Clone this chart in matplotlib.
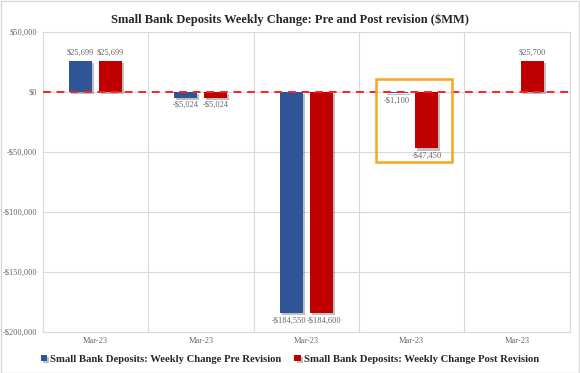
import numpy as np
import matplotlib
matplotlib.use("Agg")
import matplotlib.pyplot as plt
import matplotlib.patheffects as pe
from matplotlib.patches import Rectangle

plt.rcParams["font.family"] = ["Liberation Serif", "DejaVu Serif"]

categories = ["Mar-23", "Mar-23", "Mar-23", "Mar-23", "Mar-23"]
pre_revision = [25699, -5024, -184550, -1100, np.nan]
post_revision = [25699, -5024, -184600, -47450, 25700]
series_names = ["Small Bank Deposits: Weekly Change Pre Revision",
                "Small Bank Deposits: Weekly Change Post Revision"]
yticks = [50000, 0, -50000, -100000, -150000, -200000]

BLUE = "#2F5597"
RED = "#C00000"
GREY = "#666666"


def money(v):
    s = f"${abs(v):,.0f}"
    return "-" + s if v < 0 else s


fig = plt.figure(figsize=(5.8, 3.73), dpi=100)
ax = fig.add_axes([0.0736, 0.111, 0.909, 0.8045])

x = np.arange(len(categories))
w = 0.218
off = 0.142
shadow = [pe.SimplePatchShadow(offset=(1.5, -1.5), shadow_rgbFace="#000000", alpha=0.25), pe.Normal()]

b1 = ax.bar(x - off, pre_revision, w, color=BLUE, label=series_names[0], zorder=3,
            path_effects=shadow)
b2 = ax.bar(x + off, post_revision, w, color=RED, label=series_names[1], zorder=3,
            path_effects=shadow)

# small nudge so the two big labels in the middle do not run into each other
for xs, vals, nudge in [(x - off, pre_revision, -0.025), (x + off, post_revision, 0.025)]:
    for xi, v in zip(xs, vals):
        if np.isnan(v):
            continue
        if v >= 0:
            ax.text(xi, v + 3000, money(v), ha="center", va="bottom", fontsize=6, color=GREY, zorder=5)
        else:
            dx = nudge if v < -100000 else 0
            ax.text(xi + dx, v - 3000, money(v), ha="center", va="top", fontsize=6, color=GREY, zorder=5)

ax.axhline(0, color="#FF2020", lw=1.4, ls=(0, (4, 3)), zorder=4)

# highlight box around the revision
ax.add_patch(Rectangle((3 - 0.335, -58900), 0.715, 69150, fill=False,
                       edgecolor="#F5A623", lw=1.8, zorder=6, clip_on=False))

ax.set_xlim(-0.5, len(categories) - 0.5)
ax.set_ylim(-200000, 50000)
ax.set_yticks(yticks)
ax.set_yticklabels([money(t) for t in yticks], fontsize=6, color=GREY)
ax.set_xticks(x)
ax.set_xticklabels(categories, fontsize=6, color=GREY)
ax.set_xticks(np.arange(len(categories) + 1) - 0.5, minor=True)
ax.tick_params(length=0, which="both", pad=4)
ax.grid(True, axis="y", color="#D9D9D9", lw=0.8, zorder=0)
ax.grid(True, axis="x", which="minor", color="#D9D9D9", lw=0.8, zorder=0)
for sp in ax.spines.values():
    sp.set_color("#D9D9D9")
    sp.set_linewidth(0.8)

fig.suptitle("Small Bank Deposits Weekly Change: Pre and Post revision ($MM)",
             y=0.965, fontsize=9, fontweight="bold", color="#262626")

leg = fig.legend(handles=[b1, b2], loc="center", bbox_to_anchor=(0.5, 0.037), ncol=2,
                 frameon=False, handlelength=0.6, handleheight=0.6,
                 handletextpad=0.3, columnspacing=1.2, prop={"weight": "bold", "size": 7.7})
for t in leg.get_texts():
    t.set_color("#262626")

fig.patches.append(Rectangle((0.001, 0.001), 0.998, 0.997, transform=fig.transFigure,
                             fill=False, edgecolor="#D9D9D9", lw=1))

fig.savefig("out.png", dpi=100)
